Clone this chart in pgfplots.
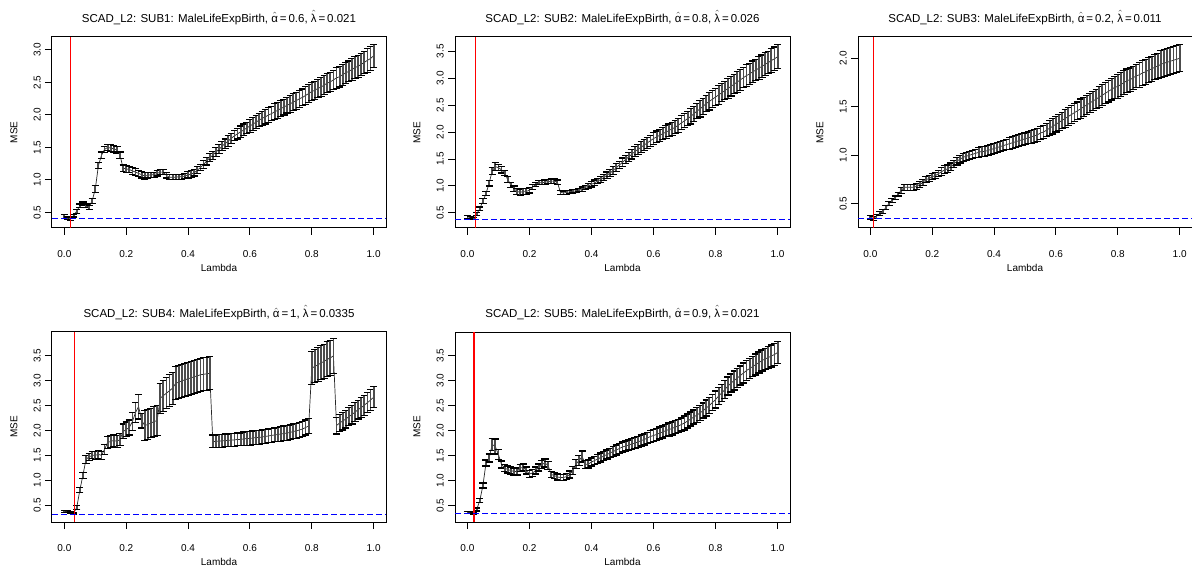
\documentclass[border=0pt]{standalone}
\usepackage{fontspec}
\setmainfont{Liberation Sans}
\usepackage{pgfplots}
\usepackage{pgfplotstable}
\pgfplotsset{compat=1.18}

% lambda, mean MSE, error half-width
\pgfplotstableread{
x y e
0.00 0.44 0.03
0.01 0.41 0.02
0.02 0.40 0.02
0.03 0.45 0.02
0.04 0.52 0.03
0.05 0.60 0.03
0.06 0.63 0.03
0.07 0.60 0.03
0.08 0.58 0.03
0.09 0.68 0.04
0.10 0.86 0.05
0.11 1.22 0.05
0.12 1.38 0.05
0.13 1.47 0.05
0.14 1.50 0.05
0.15 1.49 0.05
0.16 1.48 0.05
0.17 1.46 0.05
0.18 1.38 0.05
0.19 1.18 0.05
0.20 1.17 0.05
0.21 1.16 0.05
0.22 1.14 0.05
0.23 1.12 0.05
0.24 1.10 0.05
0.25 1.08 0.05
0.26 1.06 0.05
0.27 1.07 0.04
0.28 1.08 0.04
0.29 1.08 0.04
0.30 1.10 0.04
0.31 1.12 0.04
0.32 1.12 0.04
0.33 1.07 0.04
0.34 1.04 0.04
0.35 1.04 0.04
0.36 1.04 0.04
0.37 1.05 0.04
0.38 1.05 0.04
0.39 1.06 0.04
0.40 1.08 0.05
0.41 1.09 0.05
0.42 1.11 0.05
0.43 1.15 0.05
0.44 1.19 0.05
0.45 1.24 0.06
0.46 1.29 0.06
0.47 1.34 0.06
0.48 1.38 0.06
0.49 1.43 0.07
0.50 1.47 0.07
0.51 1.52 0.07
0.52 1.56 0.07
0.53 1.60 0.08
0.54 1.64 0.08
0.55 1.68 0.08
0.56 1.71 0.08
0.57 1.74 0.09
0.58 1.77 0.09
0.59 1.80 0.09
0.60 1.83 0.10
0.61 1.86 0.10
0.62 1.89 0.10
0.63 1.92 0.10
0.64 1.95 0.11
0.65 1.97 0.11
0.66 2.00 0.11
0.67 2.02 0.11
0.68 2.05 0.12
0.69 2.07 0.12
0.70 2.10 0.12
0.71 2.12 0.12
0.72 2.15 0.12
0.73 2.17 0.13
0.74 2.20 0.13
0.75 2.22 0.13
0.76 2.25 0.13
0.77 2.27 0.13
0.78 2.30 0.14
0.79 2.33 0.14
0.80 2.36 0.14
0.81 2.38 0.14
0.82 2.41 0.14
0.83 2.43 0.15
0.84 2.46 0.15
0.85 2.49 0.15
0.86 2.51 0.15
0.87 2.54 0.15
0.88 2.57 0.16
0.89 2.59 0.16
0.90 2.62 0.16
0.91 2.65 0.16
0.92 2.67 0.16
0.93 2.70 0.17
0.94 2.73 0.17
0.95 2.75 0.17
0.96 2.78 0.17
0.97 2.81 0.17
0.98 2.84 0.18
0.99 2.87 0.18
1.00 2.91 0.18
}\subA

\pgfplotstableread{
x y e
0.00 0.43 0.03
0.01 0.41 0.02
0.02 0.39 0.02
0.03 0.48 0.03
0.04 0.58 0.03
0.05 0.72 0.04
0.06 0.86 0.04
0.07 1.05 0.05
0.08 1.28 0.06
0.09 1.36 0.07
0.10 1.34 0.06
0.11 1.30 0.06
0.12 1.24 0.05
0.13 1.12 0.05
0.14 1.02 0.05
0.15 0.95 0.05
0.16 0.90 0.06
0.17 0.88 0.05
0.18 0.90 0.05
0.19 0.90 0.05
0.20 0.92 0.05
0.21 0.98 0.04
0.22 1.03 0.04
0.23 1.06 0.04
0.24 1.06 0.04
0.25 1.07 0.04
0.26 1.08 0.04
0.27 1.09 0.04
0.28 1.09 0.04
0.29 1.07 0.04
0.30 0.88 0.03
0.31 0.87 0.03
0.32 0.88 0.03
0.33 0.89 0.03
0.34 0.90 0.03
0.35 0.91 0.03
0.36 0.92 0.03
0.37 0.94 0.04
0.38 0.97 0.04
0.39 1.00 0.04
0.40 1.03 0.05
0.41 1.06 0.05
0.42 1.09 0.05
0.43 1.12 0.05
0.44 1.16 0.06
0.45 1.20 0.06
0.46 1.24 0.06
0.47 1.29 0.07
0.48 1.34 0.07
0.49 1.39 0.07
0.50 1.44 0.08
0.51 1.49 0.08
0.52 1.54 0.08
0.53 1.59 0.09
0.54 1.64 0.09
0.55 1.68 0.09
0.56 1.72 0.10
0.57 1.76 0.10
0.58 1.80 0.10
0.59 1.84 0.10
0.60 1.88 0.11
0.61 1.91 0.11
0.62 1.94 0.11
0.63 1.97 0.11
0.64 2.00 0.12
0.65 2.03 0.12
0.66 2.06 0.12
0.67 2.09 0.12
0.68 2.13 0.13
0.69 2.17 0.13
0.70 2.21 0.13
0.71 2.25 0.13
0.72 2.29 0.14
0.73 2.34 0.14
0.74 2.39 0.14
0.75 2.43 0.15
0.76 2.48 0.15
0.77 2.53 0.15
0.78 2.57 0.16
0.79 2.61 0.16
0.80 2.65 0.16
0.81 2.69 0.17
0.82 2.73 0.17
0.83 2.77 0.17
0.84 2.81 0.18
0.85 2.85 0.18
0.86 2.89 0.18
0.87 2.93 0.19
0.88 2.97 0.19
0.89 3.01 0.19
0.90 3.05 0.20
0.91 3.08 0.20
0.92 3.12 0.20
0.93 3.15 0.20
0.94 3.19 0.21
0.95 3.22 0.21
0.96 3.26 0.21
0.97 3.29 0.21
0.98 3.33 0.22
0.99 3.36 0.22
1.00 3.40 0.22
}\subB

\pgfplotstableread{
x y e
0.00 0.36 0.02
0.01 0.35 0.02
0.02 0.37 0.02
0.03 0.40 0.02
0.04 0.42 0.02
0.05 0.46 0.02
0.06 0.50 0.02
0.07 0.53 0.02
0.08 0.56 0.02
0.09 0.60 0.02
0.10 0.64 0.03
0.11 0.67 0.03
0.12 0.67 0.03
0.13 0.67 0.03
0.14 0.67 0.03
0.15 0.68 0.03
0.16 0.70 0.03
0.17 0.72 0.03
0.18 0.75 0.03
0.19 0.76 0.03
0.20 0.78 0.03
0.21 0.79 0.03
0.22 0.81 0.03
0.23 0.83 0.04
0.24 0.85 0.04
0.25 0.86 0.04
0.26 0.88 0.04
0.27 0.91 0.04
0.28 0.94 0.04
0.29 0.96 0.04
0.30 0.98 0.04
0.31 0.99 0.04
0.32 1.00 0.04
0.33 1.01 0.04
0.34 1.02 0.04
0.35 1.03 0.05
0.36 1.04 0.05
0.37 1.04 0.05
0.38 1.05 0.05
0.39 1.06 0.05
0.40 1.07 0.05
0.41 1.08 0.05
0.42 1.09 0.05
0.43 1.10 0.05
0.44 1.11 0.05
0.45 1.12 0.06
0.46 1.13 0.06
0.47 1.14 0.06
0.48 1.15 0.06
0.49 1.16 0.06
0.50 1.17 0.06
0.51 1.18 0.06
0.52 1.19 0.07
0.53 1.20 0.07
0.54 1.21 0.07
0.55 1.23 0.07
0.56 1.24 0.07
0.57 1.26 0.07
0.58 1.28 0.08
0.59 1.30 0.08
0.60 1.32 0.08
0.61 1.34 0.08
0.62 1.36 0.08
0.63 1.38 0.09
0.64 1.40 0.09
0.65 1.42 0.09
0.66 1.44 0.09
0.67 1.46 0.09
0.68 1.48 0.10
0.69 1.50 0.10
0.70 1.52 0.10
0.71 1.54 0.10
0.72 1.56 0.10
0.73 1.58 0.10
0.74 1.60 0.11
0.75 1.62 0.11
0.76 1.64 0.11
0.77 1.66 0.11
0.78 1.68 0.11
0.79 1.70 0.11
0.80 1.71 0.12
0.81 1.73 0.12
0.82 1.75 0.12
0.83 1.77 0.12
0.84 1.78 0.12
0.85 1.80 0.12
0.86 1.82 0.12
0.87 1.83 0.13
0.88 1.85 0.13
0.89 1.86 0.13
0.90 1.88 0.13
0.91 1.89 0.13
0.92 1.91 0.13
0.93 1.92 0.13
0.94 1.94 0.14
0.95 1.95 0.14
0.96 1.96 0.14
0.97 1.97 0.14
0.98 1.98 0.14
0.99 1.99 0.14
1.00 2.00 0.14
}\subC

\pgfplotstableread{
x y e
0.00 0.37 0.02
0.01 0.37 0.02
0.02 0.36 0.02
0.03 0.34 0.02
0.04 0.45 0.04
0.05 0.80 0.05
0.06 1.10 0.06
0.07 1.42 0.08
0.08 1.47 0.07
0.09 1.50 0.07
0.10 1.50 0.08
0.11 1.52 0.08
0.12 1.50 0.08
0.13 1.62 0.10
0.14 1.76 0.12
0.15 1.78 0.12
0.16 1.80 0.12
0.17 1.78 0.12
0.18 1.82 0.12
0.19 1.98 0.15
0.20 2.02 0.15
0.21 2.06 0.15
0.22 2.18 0.18
0.23 2.36 0.20
0.24 2.48 0.25
0.25 2.20 0.15
0.26 2.10 0.30
0.27 2.12 0.30
0.28 2.15 0.30
0.29 2.18 0.30
0.30 2.20 0.30
0.31 2.65 0.30
0.32 2.70 0.31
0.33 2.75 0.31
0.34 2.80 0.32
0.35 2.85 0.32
0.36 2.95 0.33
0.37 2.97 0.33
0.38 3.00 0.33
0.39 3.02 0.33
0.40 3.04 0.33
0.41 3.06 0.33
0.42 3.08 0.33
0.43 3.10 0.33
0.44 3.12 0.33
0.45 3.13 0.33
0.46 3.14 0.33
0.47 3.15 0.33
0.48 1.78 0.13
0.49 1.78 0.13
0.50 1.79 0.13
0.51 1.79 0.13
0.52 1.80 0.13
0.53 1.80 0.13
0.54 1.81 0.13
0.55 1.81 0.13
0.56 1.82 0.13
0.57 1.82 0.13
0.58 1.83 0.14
0.59 1.84 0.14
0.60 1.84 0.14
0.61 1.85 0.14
0.62 1.86 0.14
0.63 1.86 0.14
0.64 1.87 0.14
0.65 1.88 0.14
0.66 1.89 0.14
0.67 1.90 0.14
0.68 1.91 0.14
0.69 1.92 0.14
0.70 1.93 0.15
0.71 1.94 0.15
0.72 1.95 0.15
0.73 1.96 0.15
0.74 1.98 0.15
0.75 1.99 0.15
0.76 2.01 0.15
0.77 2.03 0.15
0.78 2.06 0.15
0.79 2.09 0.15
0.80 3.25 0.33
0.81 3.29 0.33
0.82 3.32 0.34
0.83 3.36 0.34
0.84 3.39 0.34
0.85 3.43 0.35
0.86 3.46 0.35
0.87 3.50 0.35
0.88 2.10 0.17
0.89 2.15 0.17
0.90 2.19 0.18
0.91 2.23 0.18
0.92 2.28 0.18
0.93 2.32 0.19
0.94 2.37 0.19
0.95 2.42 0.19
0.96 2.46 0.20
0.97 2.51 0.20
0.98 2.56 0.20
0.99 2.61 0.21
1.00 2.67 0.21
}\subD

\pgfplotstableread{
x y e
0.00 0.36 0.02
0.01 0.36 0.02
0.02 0.35 0.02
0.03 0.42 0.03
0.04 0.60 0.04
0.05 0.90 0.05
0.06 1.35 0.06
0.07 1.45 0.08
0.08 1.72 0.12
0.09 1.68 0.15
0.10 1.52 0.10
0.11 1.32 0.07
0.12 1.25 0.07
0.13 1.22 0.07
0.14 1.20 0.07
0.15 1.18 0.07
0.16 1.18 0.07
0.17 1.25 0.07
0.18 1.26 0.07
0.19 1.20 0.07
0.20 1.13 0.07
0.21 1.15 0.07
0.22 1.20 0.07
0.23 1.26 0.07
0.24 1.32 0.08
0.25 1.35 0.08
0.26 1.30 0.08
0.27 1.12 0.06
0.28 1.10 0.06
0.29 1.07 0.06
0.30 1.06 0.06
0.31 1.06 0.06
0.32 1.08 0.06
0.33 1.12 0.07
0.34 1.20 0.08
0.35 1.33 0.09
0.36 1.40 0.10
0.37 1.48 0.11
0.38 1.32 0.08
0.39 1.33 0.08
0.40 1.37 0.08
0.41 1.40 0.08
0.42 1.43 0.09
0.43 1.46 0.09
0.44 1.49 0.09
0.45 1.52 0.09
0.46 1.55 0.09
0.47 1.58 0.10
0.48 1.61 0.10
0.49 1.64 0.10
0.50 1.67 0.10
0.51 1.69 0.10
0.52 1.71 0.10
0.53 1.73 0.11
0.54 1.75 0.11
0.55 1.77 0.11
0.56 1.80 0.11
0.57 1.82 0.11
0.58 1.85 0.11
0.59 1.88 0.12
0.60 1.90 0.12
0.61 1.92 0.12
0.62 1.95 0.12
0.63 1.97 0.12
0.64 2.00 0.12
0.65 2.02 0.13
0.66 2.04 0.13
0.67 2.07 0.13
0.68 2.09 0.13
0.69 2.12 0.13
0.70 2.15 0.14
0.71 2.19 0.14
0.72 2.23 0.14
0.73 2.27 0.14
0.74 2.31 0.15
0.75 2.35 0.15
0.76 2.40 0.15
0.77 2.45 0.16
0.78 2.50 0.16
0.79 2.56 0.16
0.80 2.62 0.17
0.81 2.69 0.17
0.82 2.75 0.17
0.83 2.82 0.18
0.84 2.89 0.18
0.85 2.95 0.18
0.86 3.00 0.19
0.87 3.05 0.19
0.88 3.10 0.19
0.89 3.15 0.20
0.90 3.20 0.20
0.91 3.24 0.20
0.92 3.28 0.20
0.93 3.32 0.21
0.94 3.36 0.21
0.95 3.40 0.21
0.96 3.43 0.21
0.97 3.46 0.22
0.98 3.49 0.22
0.99 3.52 0.22
1.00 3.56 0.22
}\subE

\newcommand{\ahat}{$\hat{\mbox{α}}$}
\newcommand{\lhat}{$\hat{\mbox{λ}}$}

\pgfplotsset{
  rpanel/.style={
    scale only axis, width=334bp, height=191bp,
    anchor=south west,
    xmin=-0.04, xmax=1.04,
    xtick={0,0.2,0.4,0.6,0.8,1},
    xticklabels={0.0,0.2,0.4,0.6,0.8,1.0},
    tick align=outside, tick pos=left,
    major tick length=7bp,
    axis line style={line width=1bp},
    every tick/.style={line width=1bp},
    tick label style={font=\fontsize{10bp}{12bp}\selectfont},
    xticklabel style={anchor=center, yshift=-18.7bp},
    yticklabel style={xshift=-7.8bp, rotate=90, anchor=center},
    label style={font=\fontsize{10bp}{12bp}\selectfont},
    xlabel={Lambda}, ylabel={MSE},
    xlabel style={at={(axis description cs:0.5,-0.21)}, anchor=center},
    ylabel style={at={(axis description cs:-0.114,0.5)}, anchor=center},
    title style={at={(axis description cs:0.5,1.071)}, anchor=center,
      font=\fontsize{11.5bp}{14bp}\selectfont},
    scaled ticks=false,
  },
  cvline/.style={draw=black!85, line width=0.7bp, mark=none,
    error bars/.cd, y dir=both, y explicit,
    error bar style={line width=1.8bp, draw=black!70},
    error mark options={rotate=90, mark size=3.6bp, line width=1.1bp, draw=black}},
  lamline/.style={draw=red, line width=1.2bp, mark=none},
  minline/.style={draw=blue, line width=1bp, mark=none,
    dash pattern=on 6bp off 3bp},
}

\begin{document}
\begin{tikzpicture}
\useasboundingbox (0,0) rectangle (1192bp,574bp);

\begin{axis}[rpanel, at={(52bp,346bp)}, ymin=0.26, ymax=3.20,
  ytick={0.5,1,1.5,2,2.5,3}, yticklabels={0.5,1.0,1.5,2.0,2.5,3.0},
  title={SCAD\_L2: SUB1: MaleLifeExpBirth, \ahat\,=\,0.6, \lhat\,=\,0.021}]
\addplot[cvline] table[x=x, y=y, y error=e] {\subA};
\addplot[lamline] coordinates {(0.021,0.26) (0.021,3.20)};
\addplot[minline] coordinates {(-0.04,0.40) (1.04,0.40)};
\end{axis}

\begin{axis}[rpanel, at={(455bp,346bp)}, width=335bp, ymin=0.22, ymax=3.765,
  ytick={0.5,1,1.5,2,2.5,3,3.5}, yticklabels={0.5,1.0,1.5,2.0,2.5,3.0,3.5},
  title={SCAD\_L2: SUB2: MaleLifeExpBirth, \ahat\,=\,0.8, \lhat\,=\,0.026}]
\addplot[cvline] table[x=x, y=y, y error=e] {\subB};
\addplot[lamline] coordinates {(0.026,0.22) (0.026,3.765)};
\addplot[minline] coordinates {(-0.04,0.38) (1.04,0.38)};
\end{axis}

\begin{axis}[rpanel, at={(858bp,346bp)}, ymin=0.25, ymax=2.22,
  ytick={0.5,1,1.5,2}, yticklabels={0.5,1.0,1.5,2.0},
  title={SCAD\_L2: SUB3: MaleLifeExpBirth, \ahat\,=\,0.2, \lhat\,=\,0.011}]
\addplot[cvline] table[x=x, y=y, y error=e] {\subC};
\addplot[lamline] coordinates {(0.011,0.25) (0.011,2.22)};
\addplot[minline] coordinates {(-0.04,0.35) (1.04,0.35)};
\end{axis}

\begin{axis}[rpanel, at={(52bp,52bp)}, height=190bp, ymin=0.16, ymax=3.98,
  ytick={0.5,1,1.5,2,2.5,3,3.5}, yticklabels={0.5,1.0,1.5,2.0,2.5,3.0,3.5},
  title={SCAD\_L2: SUB4: MaleLifeExpBirth, \ahat\,=\,1, \lhat\,=\,0.0335}]
\addplot[cvline] table[x=x, y=y, y error=e] {\subD};
\addplot[lamline] coordinates {(0.0335,0.16) (0.0335,3.98)};
\addplot[minline] coordinates {(-0.04,0.32) (1.04,0.32)};
\end{axis}

\begin{axis}[rpanel, at={(455bp,52bp)}, width=335bp, height=190bp, ymin=0.17, ymax=3.97,
  ytick={0.5,1,1.5,2,2.5,3,3.5}, yticklabels={0.5,1.0,1.5,2.0,2.5,3.0,3.5},
  title={SCAD\_L2: SUB5: MaleLifeExpBirth, \ahat\,=\,0.9, \lhat\,=\,0.021}]
\addplot[cvline] table[x=x, y=y, y error=e] {\subE};
\addplot[lamline] coordinates {(0.021,0.17) (0.021,3.97)};
\addplot[minline] coordinates {(-0.04,0.34) (1.04,0.34)};
\end{axis}
\end{tikzpicture}
\end{document}
